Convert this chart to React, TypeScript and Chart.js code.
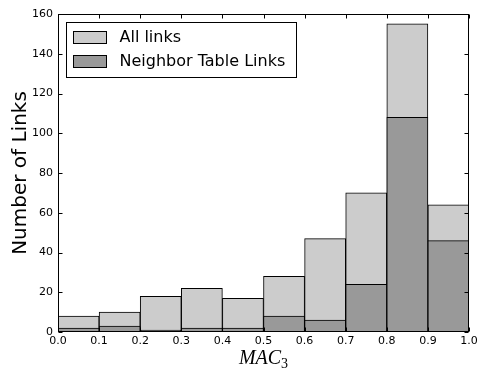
import React, { useEffect, useRef } from "react";
import { Chart, registerables } from "chart.js";

Chart.register(...registerables);

// Histogram bins of MAC_3 (width 0.1 from 0.0 to 1.0)
const BIN_LABELS = ["0.0", "0.1", "0.2", "0.3", "0.4", "0.5", "0.6", "0.7", "0.8", "0.9"];
const ALL_LINKS = [8, 10, 18, 22, 17, 28, 47, 70, 155, 64];
const NEIGHBOR_LINKS = [2, 3, 1, 2, 2, 8, 6, 24, 108, 46];
const X_TICKS = [0, 0.1, 0.2, 0.3, 0.4, 0.5, 0.6, 0.7, 0.8, 0.9, 1.0];
const Y_TICKS = [0, 20, 40, 60, 80, 100, 120, 140, 160];

const SANS = "'DejaVu Sans', sans-serif";

// Frame, inward tick marks, axis titles and boxed legend
const decorations = {
  id: "decorations",
  afterDatasetsDraw(chart: any) {
    const { ctx, chartArea } = chart;
    const { left, right, top, bottom } = chartArea;
    const ys = chart.scales.y;
    const xs = chart.scales.x2;
    ctx.save();
    ctx.strokeStyle = "#000";
    ctx.lineWidth = 1;
    const L = Math.round(left) + 0.5;
    const R = Math.round(right) - 0.5;
    const T = Math.round(top) + 0.5;
    const B = Math.round(bottom) - 0.5;
    ctx.strokeRect(L, T, R - L, B - T);
    const tl = 4;
    ctx.beginPath();
    Y_TICKS.forEach((v) => {
      const py = Math.round(ys.getPixelForValue(v)) + 0.5;
      ctx.moveTo(L, py);
      ctx.lineTo(L + tl, py);
      ctx.moveTo(R, py);
      ctx.lineTo(R - tl, py);
    });
    X_TICKS.forEach((v) => {
      const px = Math.round(xs.getPixelForValue(v)) + 0.5;
      ctx.moveTo(px, B);
      ctx.lineTo(px, B - tl);
      ctx.moveTo(px, T);
      ctx.lineTo(px, T + tl);
    });
    ctx.stroke();
    ctx.restore();
  },
  afterDraw(chart: any) {
    const { ctx, chartArea } = chart;
    const { left, right, top, bottom } = chartArea;
    ctx.save();
    ctx.fillStyle = "#000";

    // y axis title
    ctx.save();
    ctx.translate(21, (top + bottom) / 2);
    ctx.rotate(-Math.PI / 2);
    ctx.font = `20px ${SANS}`;
    ctx.textAlign = "center";
    ctx.textBaseline = "middle";
    ctx.fillText("Number of Links", 0, 0);
    ctx.restore();

    // x axis title: MAC with subscript 3
    const mainFont = "italic 20px 'Liberation Serif', serif";
    const subFont = "14px 'Liberation Serif', serif";
    ctx.font = mainFont;
    const wMain = ctx.measureText("MAC").width;
    ctx.font = subFont;
    const wSub = ctx.measureText("3").width;
    const cx = (left + right) / 2;
    const x0 = cx - (wMain + wSub) / 2;
    const baseY = 364;
    ctx.textAlign = "left";
    ctx.textBaseline = "alphabetic";
    ctx.font = mainFont;
    ctx.fillText("MAC", x0, baseY);
    ctx.font = subFont;
    ctx.fillText("3", x0 + wMain, baseY + 4);

    // legend box
    const lx = left + 8.5;
    const ly = top + 8.5;
    const lw = 230;
    const lh = 55;
    ctx.fillStyle = "#fff";
    ctx.fillRect(lx, ly, lw, lh);
    ctx.strokeStyle = "#000";
    ctx.lineWidth = 1;
    ctx.strokeRect(lx, ly, lw, lh);
    ctx.font = `16px ${SANS}`;
    ctx.textBaseline = "middle";
    chart.data.datasets.forEach((ds: any, i: number) => {
      const sy = Math.round(ly + 8 + i * 24) + 0.5;
      const sx = Math.round(lx + 6) + 0.5;
      ctx.fillStyle = ds.backgroundColor;
      ctx.fillRect(sx, sy, 33, 12);
      ctx.strokeStyle = "#000";
      ctx.strokeRect(sx, sy, 33, 12);
      ctx.fillStyle = "#000";
      ctx.fillText(ds.label, lx + 53, sy + 6.5);
    });
    ctx.restore();
  },
};

export default function App() {
  const canvasRef = useRef<HTMLCanvasElement | null>(null);

  useEffect(() => {
    if (!canvasRef.current) return;
    const chart = new Chart(canvasRef.current, {
      type: "bar",
      data: {
        labels: BIN_LABELS,
        datasets: [
          {
            label: "All links",
            data: ALL_LINKS,
            backgroundColor: "#cccccc",
            borderColor: "#000000",
            borderWidth: 1,
            borderSkipped: false,
            grouped: false,
            order: 2,
            barPercentage: 1,
            categoryPercentage: 1,
          },
          {
            label: "Neighbor Table Links",
            data: NEIGHBOR_LINKS,
            backgroundColor: "#999999",
            borderColor: "#000000",
            borderWidth: 1,
            borderSkipped: false,
            grouped: false,
            order: 1,
            barPercentage: 1,
            categoryPercentage: 1,
          },
        ] as any,
      },
      options: {
        responsive: false,
        animation: false,
        layout: { padding: { top: 14, right: 10, left: 0, bottom: 0 } },
        plugins: {
          legend: { display: false },
          tooltip: { enabled: false },
        },
        scales: {
          x: {
            type: "category",
            display: false,
            offset: true,
          },
          x2: {
            type: "linear",
            position: "bottom",
            min: 0,
            max: 1,
            offset: false,
            grid: { display: false, drawTicks: false, offset: false },
            border: { display: false },
            ticks: {
              color: "#000",
              font: { family: SANS, size: 11 },
              padding: 3,
              maxRotation: 0,
              autoSkip: false,
              callback: (v: any) => Number(v).toFixed(1),
            },
            afterBuildTicks: (scale: any) => {
              scale.ticks = X_TICKS.map((v) => ({ value: v }));
            },
            afterFit: (scale: any) => {
              scale.height = 38;
              scale.paddingLeft = 0;
              scale.paddingRight = 0;
            },
          },
          y: {
            min: 0,
            max: 160,
            grid: { display: false, drawTicks: false },
            border: { display: false },
            ticks: {
              color: "#000",
              font: { family: SANS, size: 11 },
              padding: 5,
              autoSkip: false,
            },
            afterBuildTicks: (scale: any) => {
              scale.ticks = Y_TICKS.map((v) => ({ value: v }));
            },
            afterFit: (scale: any) => {
              scale.width = 58;
              scale.paddingTop = 0;
              scale.paddingBottom = 0;
            },
          },
        },
      } as any,
      plugins: [decorations],
    });
    return () => chart.destroy();
  }, []);

  return (
    <div style={{ position: "fixed", left: 0, top: 0, width: 479, height: 370, background: "#fff" }}>
      <canvas ref={canvasRef} width={479} height={370} />
    </div>
  );
}
